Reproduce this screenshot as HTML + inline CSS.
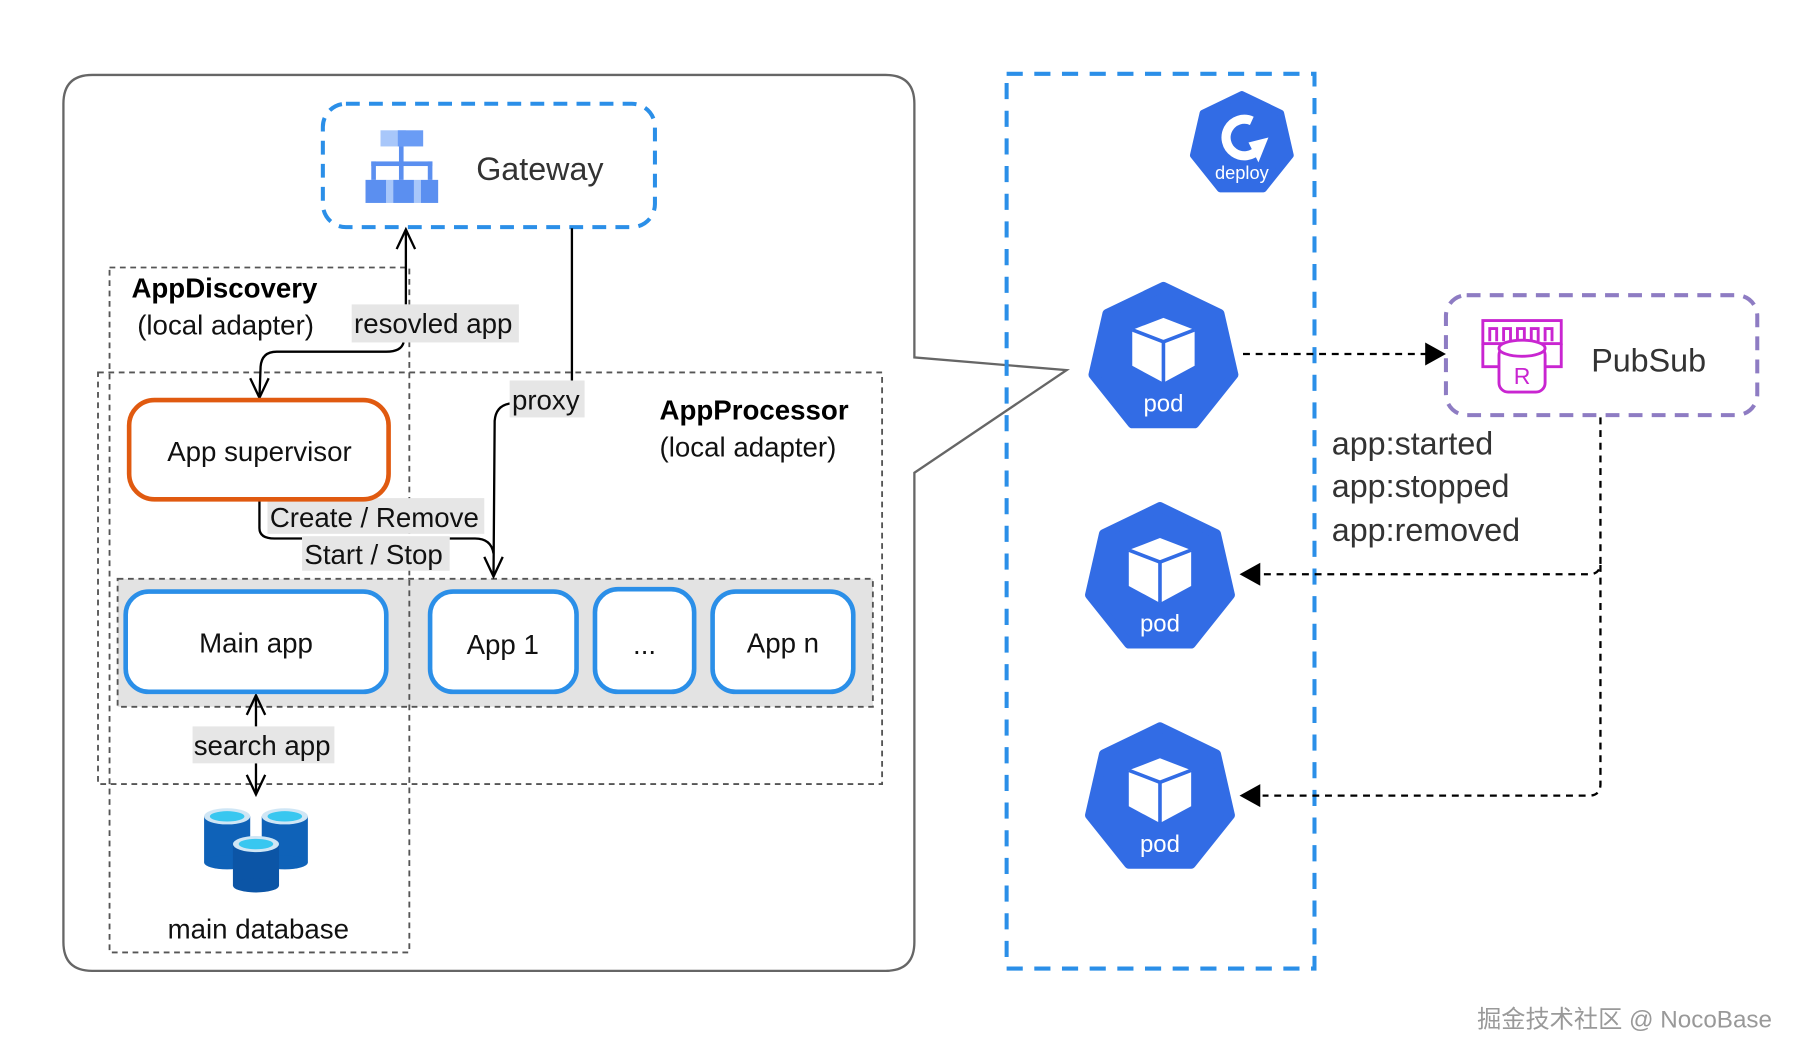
<!DOCTYPE html>
<html><head><meta charset="utf-8"><style>
html,body{margin:0;padding:0;background:#fff;}
svg{display:block;}
text{font-family:"Liberation Sans","Noto Sans CJK SC",sans-serif;}
</style></head><body>
<svg width="1808" height="1060" viewBox="0 0 1568 919.3" preserveAspectRatio="none" xmlns="http://www.w3.org/2000/svg">
<defs>
<polygon id="hep" points="0,-60 46.9,-37.4 58.5,13.4 26,54.1 -26,54.1 -58.5,13.4 -46.9,-37.4" fill="#326CE5" stroke="#326CE5" stroke-width="8" stroke-linejoin="round"/>
<g id="pod">
<use href="#hep"/>
<polygon points="0,-34 26,-24 26,6 0,20 -26,6 -26,-24" fill="#fff"/>
<polyline points="-26,-24 0,-14 26,-24" fill="none" stroke="#326CE5" stroke-width="3"/>
<line x1="0" y1="-14" x2="0" y2="20" stroke="#326CE5" stroke-width="3"/>
<text x="0" y="44" font-size="20" fill="#fff" text-anchor="middle">pod</text>
</g>
</defs>

<path d="M793,310 L793,90 Q793,65 768,65 L80,65 Q55,65 55,90 L55,817 Q55,842 80,842 L768,842 Q793,842 793,817 L793,410 L925,321 Z" fill="#fff" stroke="#666" stroke-width="2" stroke-linejoin="miter"/>

<rect x="280" y="90" width="288" height="107" rx="20" fill="#fff" stroke="#2B8FE8" stroke-width="3.5" stroke-dasharray="12 8"/>
<g>
<rect x="330" y="113" width="22" height="14" fill="#A8C7FA"/>
<rect x="345" y="113" width="22" height="14" fill="#6A9CF5"/>
<rect x="346" y="127" width="4" height="14" fill="#5B8FF0"/>
<rect x="322" y="140" width="53" height="4" fill="#5B8FF0"/>
<rect x="322" y="140" width="4" height="16" fill="#5B8FF0"/>
<rect x="346" y="140" width="4" height="16" fill="#5B8FF0"/>
<rect x="371" y="140" width="4" height="16" fill="#5B8FF0"/>
<rect x="317" y="156" width="18" height="20" fill="#5B8FF0"/>
<rect x="335" y="156" width="6" height="20" fill="#A8C7FA"/>
<rect x="341" y="156" width="18" height="20" fill="#5B8FF0"/>
<rect x="359" y="156" width="6" height="20" fill="#A8C7FA"/>
<rect x="365" y="156" width="15" height="20" fill="#5B8FF0"/>
</g>
<text x="413" y="156" font-size="28" fill="#333">Gateway</text>

<rect x="85" y="323" width="680" height="357" fill="none" stroke="#555" stroke-width="1.6" stroke-dasharray="5 4"/>
<rect x="102" y="502" width="655" height="111" fill="#e3e3e3" stroke="#555" stroke-width="1.6" stroke-dasharray="5 4"/>
<rect x="95" y="232" width="260" height="594" fill="none" stroke="#555" stroke-width="1.6" stroke-dasharray="5 4"/>

<text x="114" y="258" font-size="24" font-weight="bold" fill="#000">AppDiscovery</text>
<text x="119" y="290" font-size="24" fill="#111">(local adapter)</text>
<text x="572" y="364" font-size="24" font-weight="bold" fill="#000">AppProcessor</text>
<text x="572" y="396" font-size="24" fill="#111">(local adapter)</text>

<g fill="none" stroke="#000" stroke-width="2">
<line x1="352" y1="264" x2="352" y2="199"/>
<polyline points="344,216 352,199 360,216"/>
<path d="M350,297 Q348,305 335,305 L240,305 Q227,305 226,318 L225,345"/>
<polyline points="217,328 225,345 233,328"/>
<line x1="496" y1="198" x2="496" y2="330"/>
<path d="M442,350 Q430,352 429,365 L428,500"/>
<polyline points="420,483 428,500 436,483"/>
<path d="M225,433 L225,458 Q225,467 238,467 L262,467"/>
<path d="M390,467 L412,467 Q426,467 428,480"/>
<line x1="222" y1="630" x2="222" y2="603"/>
<polyline points="214,620 222,603 230,620"/>
<line x1="222" y1="662" x2="222" y2="689"/>
<polyline points="214,672 222,689 230,672"/>
</g>

<rect x="305" y="264" width="145" height="33" fill="#e6e6e6"/>
<text x="307" y="289" font-size="24" fill="#111">resovled app</text>
<rect x="442" y="330" width="65" height="32" fill="#e6e6e6"/>
<text x="444" y="355" font-size="24" fill="#111">proxy</text>
<rect x="232" y="432" width="188" height="31" fill="#e6e6e6"/>
<text x="234" y="457" font-size="24" fill="#111">Create / Remove</text>
<rect x="262" y="465" width="128" height="30" fill="#e6e6e6"/>
<text x="264" y="489" font-size="24" fill="#111">Start / Stop</text>
<rect x="167" y="630" width="123" height="32" fill="#e6e6e6"/>
<text x="168" y="655" font-size="24" fill="#111">search app</text>

<rect x="112" y="347" width="225" height="86" rx="22" fill="#fff" stroke="#E05A10" stroke-width="4"/>
<text x="225" y="400" font-size="24" fill="#111" text-anchor="middle">App supervisor</text>

<g fill="#fff" stroke="#2B8FE8" stroke-width="4">
<rect x="109" y="513" width="226" height="87" rx="20"/>
<rect x="373" y="513" width="127" height="87" rx="20"/>
<rect x="516" y="511" width="86" height="89" rx="20"/>
<rect x="618" y="513" width="122" height="87" rx="20"/>
</g>
<g font-size="24" fill="#111" text-anchor="middle">
<text x="222" y="566">Main app</text>
<text x="436" y="567">App 1</text>
<text x="559" y="567">...</text>
<text x="679" y="566">App n</text>
</g>

<g>
<rect x="177" y="708" width="40" height="40" fill="#0F62B8"/>
<ellipse cx="197" cy="748" rx="20" ry="6" fill="#0F62B8"/>
<ellipse cx="197" cy="708" rx="20" ry="7" fill="#CFE6F5"/>
<ellipse cx="197" cy="708" rx="15" ry="4.5" fill="#38C7F0"/>
<rect x="227" y="708" width="40" height="40" fill="#0F62B8"/>
<ellipse cx="247" cy="748" rx="20" ry="6" fill="#0F62B8"/>
<ellipse cx="247" cy="708" rx="20" ry="7" fill="#CFE6F5"/>
<ellipse cx="247" cy="708" rx="15" ry="4.5" fill="#38C7F0"/>
<rect x="202" y="732" width="40" height="36" fill="#0C55A6"/>
<ellipse cx="222" cy="768" rx="20" ry="6" fill="#0C55A6"/>
<ellipse cx="222" cy="732" rx="20" ry="7" fill="#CFE6F5"/>
<ellipse cx="222" cy="732" rx="15" ry="4.5" fill="#38C7F0"/>
</g>
<text x="224" y="814" font-size="24" fill="#111" text-anchor="middle">main database</text>

<rect x="873" y="64" width="267" height="776" fill="none" stroke="#2B8FE8" stroke-width="3.5" stroke-dasharray="14 10"/>

<g transform="translate(1077,125) scale(0.72)">
<use href="#hep"/>
<path d="M12,-28 A22,22 0 1 0 20,6" fill="none" stroke="#fff" stroke-width="11"/>
<polygon points="8,-2 32,-8 20,22" fill="#fff"/>
<text x="0" y="42" font-size="22" fill="#fff" text-anchor="middle">deploy</text>
</g>

<use href="#pod" transform="translate(1009,311) scale(1.04)"/>
<use href="#pod" transform="translate(1006,502) scale(1.04)"/>
<use href="#pod" transform="translate(1006,693) scale(1.04)"/>

<rect x="1254" y="256" width="270" height="104" rx="18" fill="#fff" stroke="#8E7CC3" stroke-width="3.5" stroke-dasharray="12 8"/>
<g fill="none" stroke="#C925D1" stroke-width="2.5">
<rect x="1286" y="278" width="68" height="20"/>
<path d="M1292,296 L1292,285 L1298,285 L1298,296 M1304,296 L1304,285 L1310,285 L1310,296 M1316,296 L1316,285 L1322,285 L1322,296 M1328,296 L1328,285 L1334,285 L1334,296 M1340,296 L1340,285 L1346,285 L1346,296"/>
<path d="M1286,298 L1286,318 L1300,318 M1354,298 L1354,318 L1340,318"/>
<rect x="1300" y="300" width="40" height="40" rx="8" fill="#fff"/>
<ellipse cx="1320" cy="302" rx="20" ry="7" fill="#fff"/>
</g>
<text x="1320" y="333" font-size="20" fill="#C925D1" text-anchor="middle">R</text>
<text x="1380" y="322" font-size="28" fill="#333">PubSub</text>

<g font-size="28" fill="#333">
<text x="1155" y="394">app:started</text>
<text x="1155" y="431">app:stopped</text>
<text x="1155" y="469">app:removed</text>
</g>

<g fill="none" stroke="#000" stroke-width="2" stroke-dasharray="6 5">
<line x1="1078" y1="307" x2="1238" y2="307"/>
<path d="M1388,362 L1388,488 Q1388,498 1378,498 L1095,498"/>
<path d="M1388,490 L1388,680 Q1388,690 1378,690 L1095,690"/>
</g>
<polygon points="1254,307 1236,297 1236,317" fill="#000"/>
<polygon points="1075,498 1093,488 1093,508" fill="#000"/>
<polygon points="1075,690 1093,680 1093,700" fill="#000"/>

<text x="1281" y="891" font-size="21" fill="#999">掘金技术社区 @ NocoBase</text>
</svg>
</body></html>
